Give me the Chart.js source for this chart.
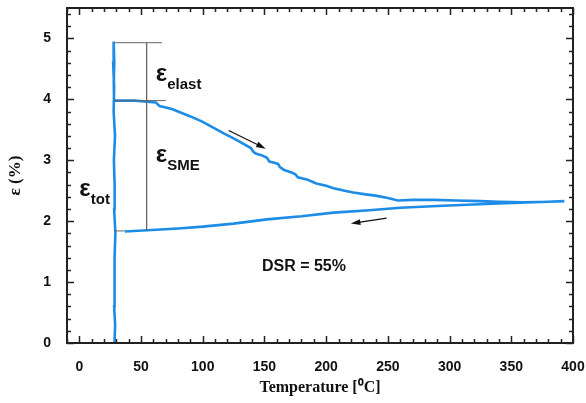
<!DOCTYPE html>
<html>
<head>
<meta charset="utf-8">
<script src="https://cdn.jsdelivr.net/npm/chart.js@4.4.1/dist/chart.umd.min.js"></script>
<style>
  html, body { margin: 0; padding: 0; background: #fff; }
  #wrap { width: 586px; height: 403px; }
</style>
</head>
<body>
<div id="wrap"><canvas id="dsrChart" width="586" height="403"></canvas></div>
<script>
// strain loop: loading at RT, unloading, heating, cooling
const loopT = [
  28.5, 29.0, 28.2, 28.8, 28.3, 29.2, 28.2, 28.6, 28.0, 28.9, 27.8, 28.2, 27.4, 27.8,
  28.3, 27.9, 28.1,
  35, 45, 55, 62, 64, 65, 75, 90, 100, 110, 117, 125, 133, 139, 141, 143, 148, 152, 154, 158, 161, 162.5, 166,
  172, 175, 177, 185, 192, 200, 206, 215, 222, 232, 240, 250, 258, 270, 287, 305, 325, 340, 360, 380, 393,
  380, 368, 340, 314, 290, 260, 235, 206, 180, 152, 125, 100, 80, 55, 37
];
const loopE = [
  0.00, 0.30, 0.60, 1.00, 1.40, 1.80, 2.20, 2.60, 3.00, 3.40, 3.80, 4.20, 4.60, 4.95,
  4.60, 4.30, 3.98,
  3.98, 3.98, 3.96, 3.95, 3.91, 3.89, 3.84, 3.72, 3.63, 3.52, 3.44, 3.36, 3.27, 3.20, 3.14, 3.11, 3.08, 3.04, 2.98, 2.96, 2.94, 2.89, 2.84,
  2.80, 2.77, 2.72, 2.68, 2.62, 2.58, 2.54, 2.50, 2.47, 2.44, 2.42, 2.38, 2.34, 2.35, 2.35, 2.34, 2.33, 2.32, 2.31, 2.32, 2.33,
  2.32, 2.31, 2.29, 2.27, 2.25, 2.22, 2.18, 2.14, 2.08, 2.03, 1.96, 1.91, 1.88, 1.85, 1.83
];

// thin grey guide lines (each pair of points is one segment)
const guideT = [28, 67, null, 28, 70, null, 54.5, 54.5, null, 28, 37];
const guideE = [4.93, 4.93, null, 3.98, 3.98, null, 4.93, 1.85, null, 1.84, 1.84];

// arrows: [fromT, fromE, toT, toE]
const arrows = [
  [121, 3.49, 151, 3.19],
  [249, 2.05, 220, 1.96]
];

// text labels: main symbol, subscript, position in data units
const labels = [
  { main: 'ε', sub: 'elast', t: 62, e: 4.30 },
  { main: 'ε', sub: 'SME', t: 62, e: 2.97 },
  { main: 'ε', sub: 'tot', t: 0, e: 2.41 }
];
const dsrText = { text: 'DSR = 55%', t: 182, e: 1.26 };

const xTicks = [0, 50, 100, 150, 200, 250, 300, 350, 400];
const yTicks = [0, 1, 2, 3, 4, 5];

const toPoints = (xs, ys) => xs.map((x, i) => (x === null ? { x: NaN, y: NaN } : { x, y: ys[i] }));

const framePlugin = {
  id: 'frame',
  afterDatasetsDraw(chart) {
    const { ctx, chartArea: a, scales: { x, y } } = chart;
    ctx.save();

    // arrows
    ctx.strokeStyle = '#111';
    ctx.fillStyle = '#111';
    ctx.lineWidth = 1.2;
    arrows.forEach(([t0, e0, t1, e1]) => {
      const x0 = x.getPixelForValue(t0), y0 = y.getPixelForValue(e0);
      const x1 = x.getPixelForValue(t1), y1 = y.getPixelForValue(e1);
      const ang = Math.atan2(y1 - y0, x1 - x0);
      ctx.beginPath();
      ctx.moveTo(x0, y0);
      ctx.lineTo(x1 - 6 * Math.cos(ang), y1 - 6 * Math.sin(ang));
      ctx.stroke();
      ctx.beginPath();
      ctx.moveTo(x1, y1);
      ctx.lineTo(x1 - 10 * Math.cos(ang - 0.3), y1 - 10 * Math.sin(ang - 0.3));
      ctx.lineTo(x1 - 10 * Math.cos(ang + 0.3), y1 - 10 * Math.sin(ang + 0.3));
      ctx.closePath();
      ctx.fill();
    });

    // labels
    ctx.textBaseline = 'alphabetic';
    ctx.textAlign = 'left';
    labels.forEach(l => {
      const px = x.getPixelForValue(l.t), py = y.getPixelForValue(l.e);
      ctx.font = 'bold 24px "Liberation Sans", Arial, sans-serif';
      ctx.fillText(l.main, px, py);
      const w = ctx.measureText(l.main).width;
      ctx.font = 'bold 15px "Liberation Sans", Arial, sans-serif';
      ctx.fillText(l.sub, px + w, py + 8);
    });
    ctx.font = 'bold 16px "Liberation Sans", Arial, sans-serif';
    ctx.textAlign = 'center';
    ctx.textBaseline = 'middle';
    ctx.fillText(dsrText.text, x.getPixelForValue(dsrText.t), y.getPixelForValue(dsrText.e));

    // frame
    ctx.strokeStyle = '#222';
    ctx.lineWidth = 2;
    ctx.strokeRect(a.left, a.top, a.right - a.left, a.bottom - a.top);

    // inward ticks on all four sides
    ctx.lineWidth = 1.5;
    ctx.beginPath();
    for (let v = -10; v <= 400; v += 10) {
      const px = Math.round(x.getPixelForValue(v)) + 0.5;
      const len = v % 50 === 0 ? 7 : 4;
      ctx.moveTo(px, a.bottom); ctx.lineTo(px, a.bottom - len);
      ctx.moveTo(px, a.top); ctx.lineTo(px, a.top + len);
    }
    for (let i = 0; i <= 27; i++) {
      const v = i * 0.2;
      const py = Math.round(y.getPixelForValue(v)) + 0.5;
      const len = i % 5 === 0 ? 7 : 4;
      ctx.moveTo(a.left, py); ctx.lineTo(a.left + len, py);
      ctx.moveTo(a.right, py); ctx.lineTo(a.right - len, py);
    }
    ctx.stroke();
    ctx.restore();
  }
};

new Chart(document.getElementById('dsrChart').getContext('2d'), {
  type: 'scatter',
  data: {
    datasets: [
      {
        label: 'guides',
        data: toPoints(guideT, guideE),
        showLine: true,
        spanGaps: false,
        borderColor: '#666',
        borderWidth: 1,
        pointRadius: 0
      },
      {
        label: 'strain',
        data: toPoints(loopT, loopE),
        showLine: true,
        borderColor: 'rgb(28,140,230)',
        borderWidth: 2.6,
        pointRadius: 0,
        tension: 0
      }
    ]
  },
  options: {
    responsive: false,
    animation: false,
    events: [],
    layout: { padding: { left: 0, right: 13, top: 8, bottom: 0 } },
    plugins: {
      legend: { display: false },
      tooltip: { enabled: false }
    },
    scales: {
      x: {
        type: 'linear',
        min: -10,
        max: 400,
        grid: { display: false },
        border: { display: false },
        afterBuildTicks: (s) => { s.ticks = xTicks.map(v => ({ value: v })); },
        afterFit: (s) => { s.height = 60; s.paddingLeft = 0; s.paddingRight = 0; },
        ticks: {
          padding: 8,
          color: '#111',
          maxRotation: 0,
          font: { family: '"Liberation Sans", Arial, sans-serif', size: 14, weight: 'bold' }
        },
        title: {
          display: true,
          text: 'Temperature [⁰C]',
          color: '#111',
          padding: { top: 0, bottom: 6 },
          font: { family: '"Liberation Serif", "Times New Roman", serif', size: 16, weight: 'bold' }
        }
      },
      y: {
        type: 'linear',
        min: 0,
        max: 5.5,
        grid: { display: false },
        border: { display: false },
        afterBuildTicks: (s) => { s.ticks = yTicks.map(v => ({ value: v })); },
        afterFit: (s) => { s.width = 67; s.paddingTop = 0; s.paddingBottom = 0; },
        ticks: {
          padding: 8,
          color: '#111',
          font: { family: '"Liberation Sans", Arial, sans-serif', size: 14, weight: 'bold' }
        },
        title: {
          display: true,
          text: 'ε (%)',
          color: '#111',
          padding: { top: 5, bottom: 0 },
          font: { family: '"Liberation Serif", "Times New Roman", serif', size: 17, weight: 'bold' }
        }
      }
    }
  },
  plugins: [framePlugin]
});
</script>
</body>
</html>
